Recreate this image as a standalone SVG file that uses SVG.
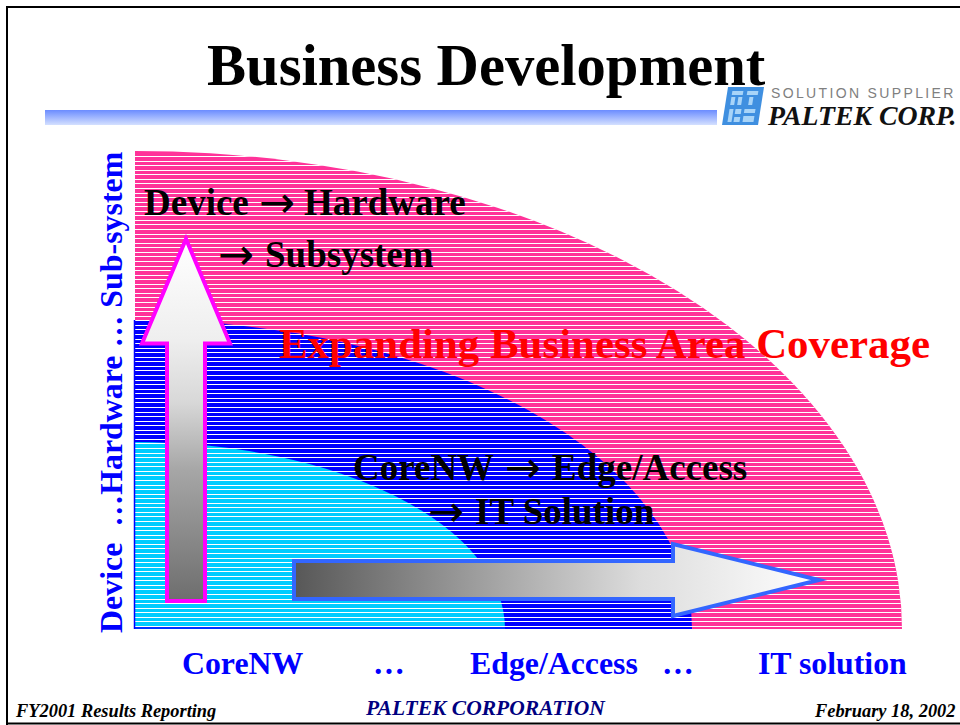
<svg xmlns="http://www.w3.org/2000/svg" width="960" height="725" viewBox="0 0 960 725">
<style>
text{font-family:"Liberation Serif","Times New Roman",serif;font-weight:bold}
.blk{fill:#000;font-size:37px}
.arr{font-family:"DejaVu Sans",sans-serif;font-weight:normal;font-size:43px}
.blu{fill:#0000ff;font-size:31.8px}
.foot{fill:#000;font-size:18.4px;font-style:italic}
.pale{fill:#a8d4f8}
</style>
<defs>
<linearGradient id="up" gradientUnits="userSpaceOnUse" x1="0" y1="240" x2="0" y2="600"><stop offset="0" stop-color="#fff"/><stop offset="0.28" stop-color="#eee"/><stop offset="0.45" stop-color="#d8d8d8"/><stop offset="0.64" stop-color="#a6a6a6"/><stop offset="1" stop-color="#6e6e6e"/></linearGradient>
<linearGradient id="rt" gradientUnits="userSpaceOnUse" x1="296" y1="0" x2="820" y2="0"><stop offset="0" stop-color="#585858"/><stop offset="0.66" stop-color="#ddd"/><stop offset="1" stop-color="#fff"/></linearGradient>
<linearGradient id="band" x1="0" y1="0" x2="0" y2="1"><stop offset="0" stop-color="#6b8cff"/><stop offset="1" stop-color="#d4e0ff"/></linearGradient>
<clipPath id="outer"><path d="M135 629V151A767 478 0 0 1 902 629Z"/></clipPath>
</defs>
<rect width="960" height="725" fill="#fff"/>
<path d="M7 725V7H960M7 723.5H960" fill="none" stroke="#000" stroke-width="2"/>
<g id="band-rule"><rect x="45" y="110" width="672" height="15" fill="url(#band)"/></g>
<g id="logo">
<g transform="translate(722 125) skewX(-9)">
<rect x="0" y="-38" width="36" height="38" fill="#3f8fe0"/>
<rect class="pale" x="5" y="-34" width="11" height="4"/><rect class="pale" x="5" y="-28" width="4" height="8"/><rect class="pale" x="12" y="-28" width="4" height="8"/>
<rect class="pale" x="20" y="-34" width="11" height="4"/><rect class="pale" x="23" y="-28" width="4" height="8"/>
<rect class="pale" x="5" y="-16" width="4" height="13"/><rect class="pale" x="11" y="-16" width="6" height="5"/><rect class="pale" x="11" y="-8" width="6" height="5"/>
<rect class="pale" x="20" y="-16" width="11" height="4"/><rect class="pale" x="20" y="-9" width="11" height="6"/>
</g>
<text x="771" y="98" style="font-family:'Liberation Sans',sans-serif;font-weight:normal;font-size:14px;letter-spacing:2.35px" fill="#808080">SOLUTION SUPPLIER</text>
<text transform="translate(768 125) scale(1.03 1)" style="font-size:27px;font-style:italic" fill="#111">PALTEK CORP.</text>
</g>
<g id="area-chart">
<path d="M135 629V151A767 478 0 0 1 902 629Z" fill="#ff3399"/>
<path d="M135 629V320A557 309 0 0 1 692 629Z" fill="#0000ff"/>
<path d="M135 629V442A370 187 0 0 1 505 629Z" fill="#00ccff"/>
<path clip-path="url(#outer)" fill="none" stroke="#fff" stroke-width="1" shape-rendering="crispEdges" d="M135 156.5H905M135 161.5H905M135 165.5H905M135 170.5H905M135 174.5H905M135 179.5H905M135 183.5H905M135 188.5H905M135 193.5H905M135 197.5H905M135 202.5H905M135 206.5H905M135 211.5H905M135 215.5H905M135 220.5H905M135 224.5H905M135 229.5H905M135 234.5H905M135 238.5H905M135 243.5H905M135 247.5H905M135 252.5H905M135 256.5H905M135 261.5H905M135 266.5H905M135 270.5H905M135 275.5H905M135 279.5H905M135 284.5H905M135 288.5H905M135 293.5H905M135 297.5H905M135 302.5H905M135 307.5H905M135 311.5H905M135 316.5H905M135 320.5H905M135 325.5H905M135 329.5H905M135 334.5H905M135 339.5H905M135 343.5H905M135 348.5H905M135 352.5H905M135 357.5H905M135 361.5H905M135 366.5H905M135 370.5H905M135 375.5H905M135 380.5H905M135 384.5H905M135 389.5H905M135 393.5H905M135 398.5H905M135 402.5H905M135 407.5H905M135 412.5H905M135 416.5H905M135 421.5H905M135 425.5H905M135 430.5H905M135 434.5H905M135 439.5H905M135 443.5H905M135 448.5H905M135 453.5H905M135 457.5H905M135 462.5H905M135 466.5H905M135 471.5H905M135 475.5H905M135 480.5H905M135 485.5H905M135 489.5H905M135 494.5H905M135 498.5H905M135 503.5H905M135 507.5H905M135 512.5H905M135 516.5H905M135 521.5H905M135 526.5H905M135 530.5H905M135 535.5H905M135 539.5H905M135 544.5H905M135 548.5H905M135 553.5H905M135 558.5H905M135 562.5H905M135 567.5H905M135 571.5H905M135 576.5H905M135 580.5H905M135 585.5H905M135 589.5H905M135 594.5H905M135 599.5H905M135 603.5H905M135 608.5H905M135 612.5H905M135 617.5H905M135 621.5H905M135 626.5H905"/>
<path d="M134.5 320V629M135 628H692" fill="none" stroke="#0000ff" stroke-width="1.5"/>
</g>
<g id="connectors">
<path id="arrow-up" d="M186 239L230 343.5H205V601H167V343.5H142Z" fill="url(#up)" stroke="#ff00ff" stroke-width="4" stroke-miterlimit="10"/>
<path id="arrow-right" d="M294 561H673V544L819 580L673 616V599H294Z" fill="url(#rt)" stroke="#3366ff" stroke-width="4" stroke-miterlimit="10"/>
</g>
<g id="title"><text x="207" y="85" style="font-size:58.6px">Business Development</text></g>
<g id="labels">
<text class="blk" y="215"><tspan x="144">Device</tspan><tspan class="arr" x="259" dy="2">→</tspan><tspan x="304" dy="-2">Hardware</tspan></text>
<text class="blk" y="267"><tspan class="arr" x="218" dy="2">→</tspan><tspan x="265" dy="-2">Subsystem</tspan></text>
<text x="279" y="358" style="font-size:42.9px" fill="#ff0000">Expanding Business Area Coverage</text>
<text class="blk" y="480"><tspan x="353">CoreNW</tspan><tspan class="arr" x="505" dy="2">→</tspan><tspan x="552" dy="-2">Edge/Access</tspan></text>
<text class="blk" y="524"><tspan class="arr" x="428" dy="2">→</tspan><tspan x="475" dy="-2">IT Solution</tspan></text>
<text class="blu" xml:space="preserve" style="font-size:31.9px" transform="translate(122 633) rotate(-90)">Device  …Hardware … Sub-system</text>
<text class="blu" x="182" y="674">CoreNW</text>
<text class="blu" x="373" y="674">…</text>
<text class="blu" x="470" y="674">Edge/Access</text>
<text class="blu" x="662" y="674">…</text>
<text class="blu" x="758" y="674">IT solution</text>
<text class="foot" x="16" y="717">FY2001 Results Reporting</text>
<text class="foot" x="366" y="715" style="fill:#000080;font-size:21.5px">PALTEK CORPORATION</text>
<text class="foot" x="815" y="717">February 18, 2002</text>
</g>
</svg>
